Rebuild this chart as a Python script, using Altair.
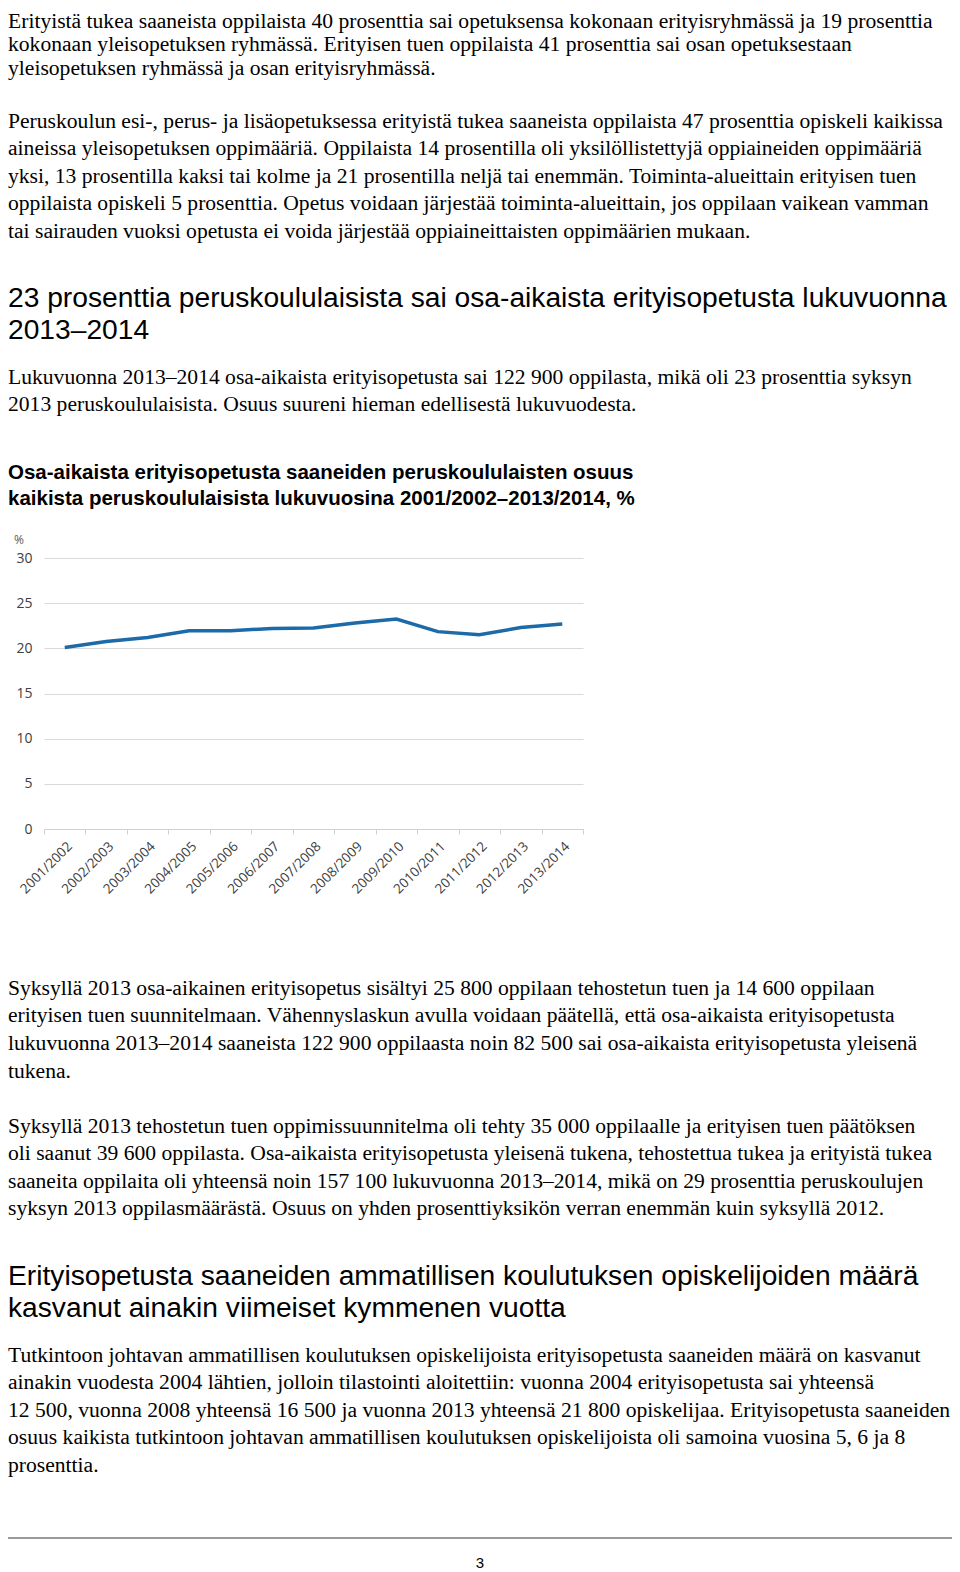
import altair as alt
import pandas as pd

# ---------------- data ----------------
years = ["2001/2002", "2002/2003", "2003/2004", "2004/2005", "2005/2006", "2006/2007",
         "2007/2008", "2008/2009", "2009/2010", "2010/2011", "2011/2012", "2012/2013", "2013/2014"]
share = [20.1, 20.75, 21.2, 21.95, 21.95, 22.2, 22.25, 22.8, 23.25, 21.85, 21.5, 22.3, 22.7]
y_ticks = [0, 5, 10, 15, 20, 25, 30]

para1 = [
    "Erityistä tukea saaneista oppilaista 40 prosenttia sai opetuksensa kokonaan erityisryhmässä ja 19 prosenttia",
    "kokonaan yleisopetuksen ryhmässä. Erityisen tuen oppilaista 41 prosenttia sai osan opetuksestaan",
    "yleisopetuksen ryhmässä ja osan erityisryhmässä.",
]
para2 = [
    "Peruskoulun esi-, perus- ja lisäopetuksessa erityistä tukea saaneista oppilaista 47 prosenttia opiskeli kaikissa",
    "aineissa yleisopetuksen oppimääriä. Oppilaista 14 prosentilla oli yksilöllistettyjä oppiaineiden oppimääriä",
    "yksi, 13 prosentilla kaksi tai kolme ja 21 prosentilla neljä tai enemmän. Toiminta-alueittain erityisen tuen",
    "oppilaista opiskeli 5 prosenttia. Opetus voidaan järjestää toiminta-alueittain, jos oppilaan vaikean vamman",
    "tai sairauden vuoksi opetusta ei voida järjestää oppiaineittaisten oppimäärien mukaan.",
]
heading1 = [
    "23 prosenttia peruskoululaisista sai osa-aikaista erityisopetusta lukuvuonna",
    "2013–2014",
]
para3 = [
    "Lukuvuonna 2013–2014 osa-aikaista erityisopetusta sai 122 900 oppilasta, mikä oli 23 prosenttia syksyn",
    "2013 peruskoululaisista. Osuus suureni hieman edellisestä lukuvuodesta.",
]
chart_title = [
    "Osa-aikaista erityisopetusta saaneiden peruskoululaisten osuus",
    "kaikista peruskoululaisista lukuvuosina 2001/2002–2013/2014, %",
]
para4 = [
    "Syksyllä 2013 osa-aikainen erityisopetus sisältyi 25 800 oppilaan tehostetun tuen ja 14 600 oppilaan",
    "erityisen tuen suunnitelmaan. Vähennyslaskun avulla voidaan päätellä, että osa-aikaista erityisopetusta",
    "lukuvuonna 2013–2014 saaneista 122 900 oppilaasta noin 82 500 sai osa-aikaista erityisopetusta yleisenä",
    "tukena.",
]
para5 = [
    "Syksyllä 2013 tehostetun tuen oppimissuunnitelma oli tehty 35 000 oppilaalle ja erityisen tuen päätöksen",
    "oli saanut 39 600 oppilasta. Osa-aikaista erityisopetusta yleisenä tukena, tehostettua tukea ja erityistä tukea",
    "saaneita oppilaita oli yhteensä noin 157 100 lukuvuonna 2013–2014, mikä on 29 prosenttia peruskoulujen",
    "syksyn 2013 oppilasmäärästä. Osuus on yhden prosenttiyksikön verran enemmän kuin syksyllä 2012.",
]
heading2 = [
    "Erityisopetusta saaneiden ammatillisen koulutuksen opiskelijoiden määrä",
    "kasvanut ainakin viimeiset kymmenen vuotta",
]
para6 = [
    "Tutkintoon johtavan ammatillisen koulutuksen opiskelijoista erityisopetusta saaneiden määrä on kasvanut",
    "ainakin vuodesta 2004 lähtien, jolloin tilastointi aloitettiin: vuonna 2004 erityisopetusta sai yhteensä",
    "12 500, vuonna 2008 yhteensä 16 500 ja vuonna 2013 yhteensä 21 800 opiskelijaa. Erityisopetusta saaneiden",
    "osuus kaikista tutkintoon johtavan ammatillisen koulutuksen opiskelijoista oli samoina vuosina 5, 6 ja 8",
    "prosenttia.",
]
page_number = "3"
unit_label = "%"

# ---------------- layout ----------------
PLOT_X, PLOT_Y = 44, 558          # page position of the plot area's top-left
PLOT_W, PLOT_H = 539, 271
MARGIN = 8
PAGE_H = 1572
LEFT = 8

SERIF = "Liberation Serif"
SANS = "Liberation Sans"
CHART_FONT = "Open Sans"


def rx(px):
    return px - PLOT_X


def ry(py):
    return py - PLOT_Y


one = alt.Data(values=[{"k": 1}])


def block(lines, base_y, size, lh, font, weight="normal", left=LEFT, color="#000000"):
    return alt.Chart(one).mark_text(
        text=lines, align="left", baseline="alphabetic", font=font, fontSize=size,
        lineHeight=lh, fontWeight=weight, color=color,
    ).encode(x=alt.value(rx(left)), y=alt.value(ry(base_y)))


BODY = 21.6
HEAD = 28.2
texts = [
    block(para1, 27.5, BODY, 23.5, SERIF),
    block(para2, 127.5, BODY, 27.6, SERIF),
    block(heading1, 307, HEAD, 32, SANS),
    block(para3, 384, BODY, 27.2, SERIF),
    block(chart_title, 478.5, 20.5, 26, SANS, weight="bold"),
    block(para4, 994.5, BODY, 27.7, SERIF),
    block(para5, 1133, BODY, 27.4, SERIF),
    block(heading2, 1285, HEAD, 32.4, SANS),
    block(para6, 1361.5, BODY, 27.6, SERIF),
]

pct = alt.Chart(one).mark_text(
    text=unit_label, align="left", baseline="middle", font=CHART_FONT, fontSize=12, color="#595959"
).encode(x=alt.value(rx(14)), y=alt.value(ry(540)))

rule = alt.Chart(one).mark_rule(color="#9a9a9a", strokeWidth=2).encode(
    x=alt.value(rx(LEFT)), x2=alt.value(rx(952)), y=alt.value(ry(1538))
)

pnum = alt.Chart(one).mark_text(
    text=page_number, align="center", baseline="alphabetic", font=SANS, fontSize=15, color="#000000"
).encode(x=alt.value(rx(480)), y=alt.value(ry(1568)))

df = pd.DataFrame({"year": years, "share": share})

line = alt.Chart(df).mark_line(color="#1c6aa8", strokeWidth=3.5).encode(
    x=alt.X(
        "year:N", sort=years, bandPosition=0.5,
        scale=alt.Scale(type="band", paddingInner=0, paddingOuter=0),
        axis=alt.Axis(
            title=None, tickBand="extent", labelAngle=-45, labelFont=CHART_FONT, labelFontSize=13.5,
            labelColor="#404040", domainColor="#d0d0d0", tickColor="#d0d0d0", tickSize=5,
            labelPadding=5, grid=False,
        ),
    ),
    y=alt.Y(
        "share:Q",
        scale=alt.Scale(domain=[0, 30], nice=False),
        axis=alt.Axis(
            title=None, values=y_ticks, domain=False, ticks=False, grid=True, gridColor="#d9d9d9",
            labelPadding=12, labelFont=CHART_FONT, labelFontSize=14, labelColor="#404040",
        ),
    ),
)

pad_bottom = PAGE_H - (PLOT_Y + PLOT_H)
chart = alt.layer(line, pct, rule, pnum, *texts).properties(
    width=PLOT_W,
    height=PLOT_H,
    autosize=alt.AutoSizeParams(type="none"),
    padding={"left": PLOT_X - MARGIN, "top": PLOT_Y - MARGIN,
             "right": 960 - MARGIN - (PLOT_X + PLOT_W), "bottom": pad_bottom},
).configure(background="white").configure_view(stroke=None)

chart.save("out.html", embed_options={"renderer": "svg", "actions": False})
